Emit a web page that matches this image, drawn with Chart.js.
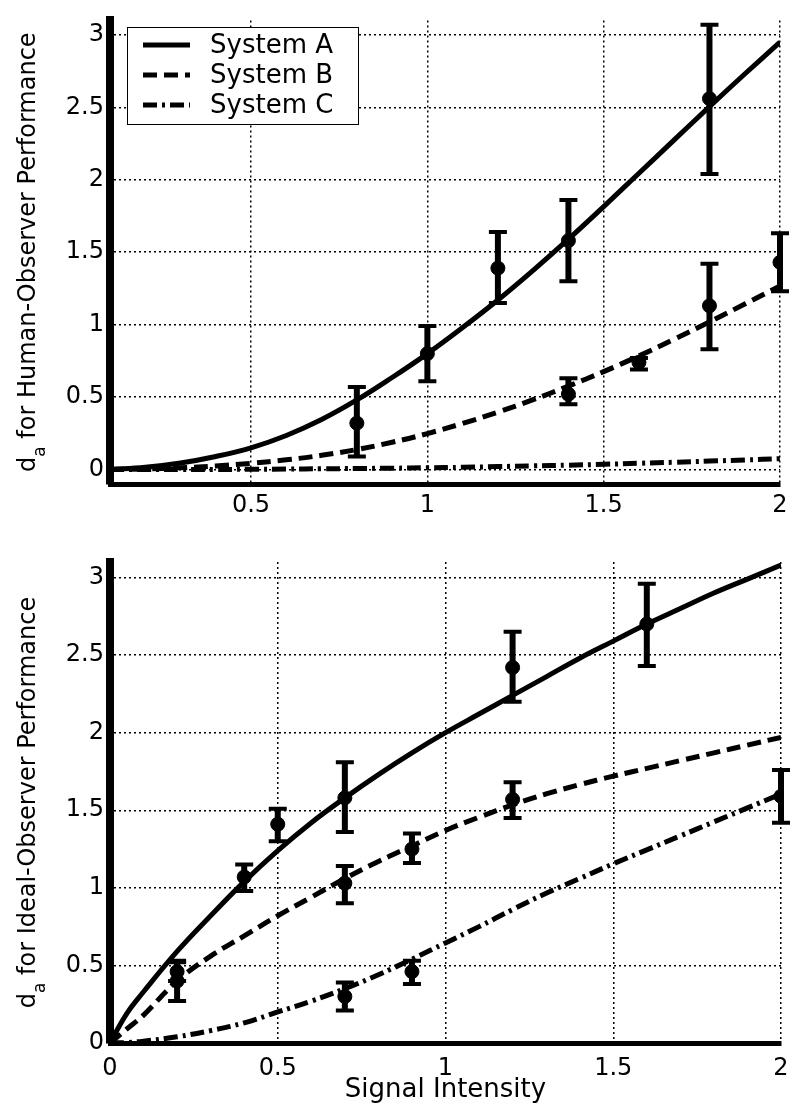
<!DOCTYPE html>
<html>
<head>
<meta charset="utf-8">
<script src="https://cdn.jsdelivr.net/npm/chart.js@4.4.0/dist/chart.umd.min.js"></script>
<style>
  body { margin: 0; background: #fff; }
  canvas { position: absolute; left: 0; }
</style>
</head>
<body>
<canvas id="humanChart" width="800" height="540" style="top:0"></canvas>
<canvas id="idealChart" width="800" height="576" style="top:540px"></canvas>
<script>
const seriesLabels = ["System A", "System B", "System C"];

// top panel: human observer
const humanTicksX = [0.5, 1, 1.5, 2];
const humanTicksY = [0, 0.5, 1, 1.5, 2, 2.5, 3];
const humanCurveX = [0.1, 0.2, 0.3, 0.4, 0.5, 0.6, 0.7, 0.8, 0.9, 1.0, 1.1, 1.2, 1.3, 1.4, 1.5, 1.6, 1.7, 1.8, 1.9, 2.0];
const humanCurveA = [0, 0.015, 0.045, 0.09, 0.15, 0.235, 0.345, 0.48, 0.635, 0.80, 0.98, 1.17, 1.375, 1.59, 1.815, 2.045, 2.275, 2.505, 2.73, 2.95];
const humanCurveB = [0, 0.004, 0.012, 0.025, 0.043, 0.067, 0.098, 0.138, 0.188, 0.248, 0.318, 0.396, 0.482, 0.576, 0.676, 0.784, 0.899, 1.019, 1.142, 1.267];
const humanCurveC = [0, 0, 0, 0, 0.002, 0.003, 0.005, 0.007, 0.009, 0.012, 0.015, 0.02, 0.025, 0.03, 0.036, 0.043, 0.05, 0.058, 0.066, 0.075];
const humanPtsAX = [0.8, 1.0, 1.2, 1.4, 1.8];
const humanPtsAY = [0.32, 0.80, 1.39, 1.58, 2.56];
const humanPtsALo = [0.09, 0.61, 1.15, 1.30, 2.04];
const humanPtsAHi = [0.57, 0.99, 1.64, 1.86, 3.07];
const humanPtsBX = [1.4, 1.6, 1.8, 2.0];
const humanPtsBY = [0.52, 0.74, 1.13, 1.43];
const humanPtsBLo = [0.45, 0.69, 0.83, 1.23];
const humanPtsBHi = [0.63, 0.77, 1.42, 1.63];

// bottom panel: ideal observer
const idealTicksX = [0, 0.5, 1, 1.5, 2];
const idealTicksY = [0, 0.5, 1, 1.5, 2, 2.5, 3];
const idealCurveX = [0, 0.05, 0.1, 0.2, 0.3, 0.4, 0.5, 0.6, 0.7, 0.8, 0.9, 1.0, 1.1, 1.2, 1.3, 1.4, 1.5, 1.6, 1.7, 1.8, 1.9, 2.0];
const idealCurveA = [0, 0.19, 0.33, 0.59, 0.82, 1.04, 1.24, 1.42, 1.58, 1.73, 1.87, 2.00, 2.12, 2.24, 2.36, 2.48, 2.59, 2.70, 2.80, 2.90, 2.99, 3.08];
const idealCurveB = [0, 0.09, 0.18, 0.40, 0.56, 0.69, 0.82, 0.94, 1.06, 1.17, 1.27, 1.37, 1.455, 1.535, 1.605, 1.665, 1.72, 1.77, 1.82, 1.87, 1.92, 1.97];
const idealCurveC = [0, 0.003, 0.012, 0.04, 0.08, 0.13, 0.20, 0.27, 0.35, 0.44, 0.54, 0.645, 0.75, 0.86, 0.965, 1.06, 1.155, 1.245, 1.335, 1.425, 1.515, 1.605];
const idealPtsAX = [0.2, 0.4, 0.5, 0.7, 1.2, 1.6];
const idealPtsAY = [0.46, 1.07, 1.41, 1.58, 2.42, 2.70];
const idealPtsALo = [0.40, 0.98, 1.30, 1.36, 2.20, 2.43];
const idealPtsAHi = [0.53, 1.15, 1.51, 1.81, 2.65, 2.96];
const idealPtsBX = [0.2, 0.7, 0.9, 1.2];
const idealPtsBY = [0.40, 1.03, 1.25, 1.57];
const idealPtsBLo = [0.27, 0.90, 1.16, 1.45];
const idealPtsBHi = [0.52, 1.14, 1.35, 1.68];
const idealPtsCX = [0.7, 0.9, 2.0];
const idealPtsCY = [0.30, 0.46, 1.59];
const idealPtsCLo = [0.21, 0.38, 1.42];
const idealPtsCHi = [0.39, 0.53, 1.76];

const FONT = "'DejaVu Sans', sans-serif";
Chart.defaults.font.family = FONT;
Chart.defaults.color = "#000";

function pairs(xs, ys) {
  return xs.map((x, i) => ({ x: x, y: ys[i] }));
}

function curveSet(label, xs, ys, dash) {
  return {
    label: label, data: pairs(xs, ys), showLine: true, pointRadius: 0,
    borderColor: "#000", borderWidth: 5, borderDash: dash,
    tension: 0.4, isCurve: true
  };
}

function pointSet(xs, ys, lo, hi) {
  return {
    label: "", data: pairs(xs, ys), showLine: false, pointRadius: 7,
    pointBackgroundColor: "#000", pointBorderColor: "#000",
    errLow: lo, errHigh: hi
  };
}

const dashA = [];
const dashB = [14, 7];
const dashC = [14, 5, 3, 5];

// error bars drawn from the low/high arrays
const errorBars = {
  id: "errorBars",
  afterDatasetsDraw(chart) {
    const { ctx, scales: { x, y } } = chart;
    ctx.save();
    ctx.strokeStyle = "#000";
    chart.data.datasets.forEach(ds => {
      if (!ds.errLow) return;
      ds.data.forEach((p, i) => {
        const px = x.getPixelForValue(p.x);
        const lo = y.getPixelForValue(ds.errLow[i]);
        const hi = y.getPixelForValue(ds.errHigh[i]);
        ctx.lineWidth = 6;
        ctx.beginPath();
        ctx.moveTo(px, lo); ctx.lineTo(px, hi);
        ctx.stroke();
        ctx.lineWidth = 4;
        ctx.beginPath();
        ctx.moveTo(px - 9, lo); ctx.lineTo(px + 9, lo);
        ctx.moveTo(px - 9, hi); ctx.lineTo(px + 9, hi);
        ctx.stroke();
      });
    });
    ctx.restore();
  }
};

// rotated y title with subscript "a"
const yTitle = {
  id: "yTitle",
  afterDraw(chart, args, opts) {
    const { ctx, chartArea } = chart;
    const cy = (chartArea.top + chartArea.bottom) / 2;
    const big = "24px " + FONT;
    const small = "17px " + FONT;
    ctx.save();
    ctx.translate(opts.x, cy);
    ctx.rotate(-Math.PI / 2);
    ctx.fillStyle = "#000";
    ctx.textBaseline = "alphabetic";
    ctx.textAlign = "left";
    ctx.font = big;
    const w1 = ctx.measureText("d").width;
    const w3 = ctx.measureText(opts.rest).width;
    ctx.font = small;
    const w2 = ctx.measureText("a").width;
    let tx = -(w1 + w2 + w3) / 2;
    ctx.font = big; ctx.fillText("d", tx, 0); tx += w1;
    ctx.font = small; ctx.fillText("a", tx, 10); tx += w2;
    ctx.font = big; ctx.fillText(opts.rest, tx, 0);
    ctx.restore();
  }
};

// boxed legend in upper-left corner
const boxLegend = {
  id: "boxLegend",
  afterDraw(chart, args, opts) {
    if (!opts.show) return;
    const ctx = chart.ctx;
    const curves = chart.data.datasets.filter(d => d.isCurve);
    ctx.save();
    ctx.fillStyle = "#fff";
    ctx.fillRect(opts.left, opts.top, opts.width, opts.height);
    ctx.strokeStyle = "#000";
    ctx.lineWidth = 1;
    ctx.strokeRect(opts.left + 0.5, opts.top + 0.5, opts.width, opts.height);
    ctx.font = "26px " + FONT;
    ctx.textBaseline = "middle";
    ctx.fillStyle = "#000";
    curves.forEach((d, i) => {
      const cy = opts.top + 18 + i * 30;
      ctx.setLineDash(d.borderDash);
      ctx.lineWidth = 5;
      ctx.beginPath();
      ctx.moveTo(opts.left + 16, cy);
      ctx.lineTo(opts.left + 63, cy);
      ctx.stroke();
      ctx.setLineDash([]);
      ctx.fillText(d.label, opts.left + 83, cy + 1);
    });
    ctx.restore();
  }
};

function axis(min, max, ticks, size, pad, lineW, title) {
  return {
    type: "linear", min: min, max: max,
    afterBuildTicks: s => { s.ticks = ticks.map(v => ({ value: v })); },
    afterFit: s => { if (s.isHorizontal()) s.height = size; else s.width = size; },
    grid: { color: "#000", lineWidth: 1.5, drawTicks: false },
    border: { display: true, color: "#000", width: lineW, dash: [2, 3] },
    ticks: { padding: pad, color: "#000", font: { size: 24 }, autoSkip: false, maxRotation: 0, callback: v => String(v) },
    title: title
  };
}

new Chart(document.getElementById("humanChart"), {
  type: "scatter",
  data: {
    datasets: [
      curveSet(seriesLabels[0], humanCurveX, humanCurveA, dashA),
      curveSet(seriesLabels[1], humanCurveX, humanCurveB, dashB),
      curveSet(seriesLabels[2], humanCurveX, humanCurveC, dashC),
      pointSet(humanPtsAX, humanPtsAY, humanPtsALo, humanPtsAHi),
      pointSet(humanPtsBX, humanPtsBY, humanPtsBLo, humanPtsBHi)
    ]
  },
  options: {
    responsive: false,
    animation: false,
    layout: { padding: { top: 15, right: 20, left: 0, bottom: 0 } },
    scales: {
      x: axis(0.1, 2, humanTicksX, 56, 7, 5, { display: false }),
      y: axis(-0.1, 3.1, humanTicksY, 110, 6, 8, { display: false })
    },
    plugins: {
      legend: { display: false },
      tooltip: { enabled: false },
      yTitle: { x: 35, rest: " for Human-Observer Performance" },
      boxLegend: { show: true, left: 127, top: 27, width: 231, height: 97 }
    }
  },
  plugins: [errorBars, yTitle, boxLegend]
});

new Chart(document.getElementById("idealChart"), {
  type: "scatter",
  data: {
    datasets: [
      curveSet(seriesLabels[0], idealCurveX, idealCurveA, dashA),
      curveSet(seriesLabels[1], idealCurveX, idealCurveB, dashB),
      curveSet(seriesLabels[2], idealCurveX, idealCurveC, dashC),
      pointSet(idealPtsAX, idealPtsAY, idealPtsALo, idealPtsAHi),
      pointSet(idealPtsBX, idealPtsBY, idealPtsBLo, idealPtsBHi),
      pointSet(idealPtsCX, idealPtsCY, idealPtsCLo, idealPtsCHi)
    ]
  },
  options: {
    responsive: false,
    animation: false,
    layout: { padding: { top: 22, right: 19, left: 0, bottom: 0 } },
    scales: {
      x: axis(0, 2, idealTicksX, 73, 11, 5, {
        display: true, text: "Signal Intensity", color: "#000",
        font: { size: 26 }, padding: { top: 0, bottom: 10 }
      }),
      y: axis(0, 3.1, idealTicksY, 110, 6, 8, { display: false })
    },
    plugins: {
      legend: { display: false },
      tooltip: { enabled: false },
      yTitle: { x: 35, rest: " for Ideal-Observer Performance" },
      boxLegend: { show: false }
    }
  },
  plugins: [errorBars, yTitle, boxLegend]
});
</script>
</body>
</html>
